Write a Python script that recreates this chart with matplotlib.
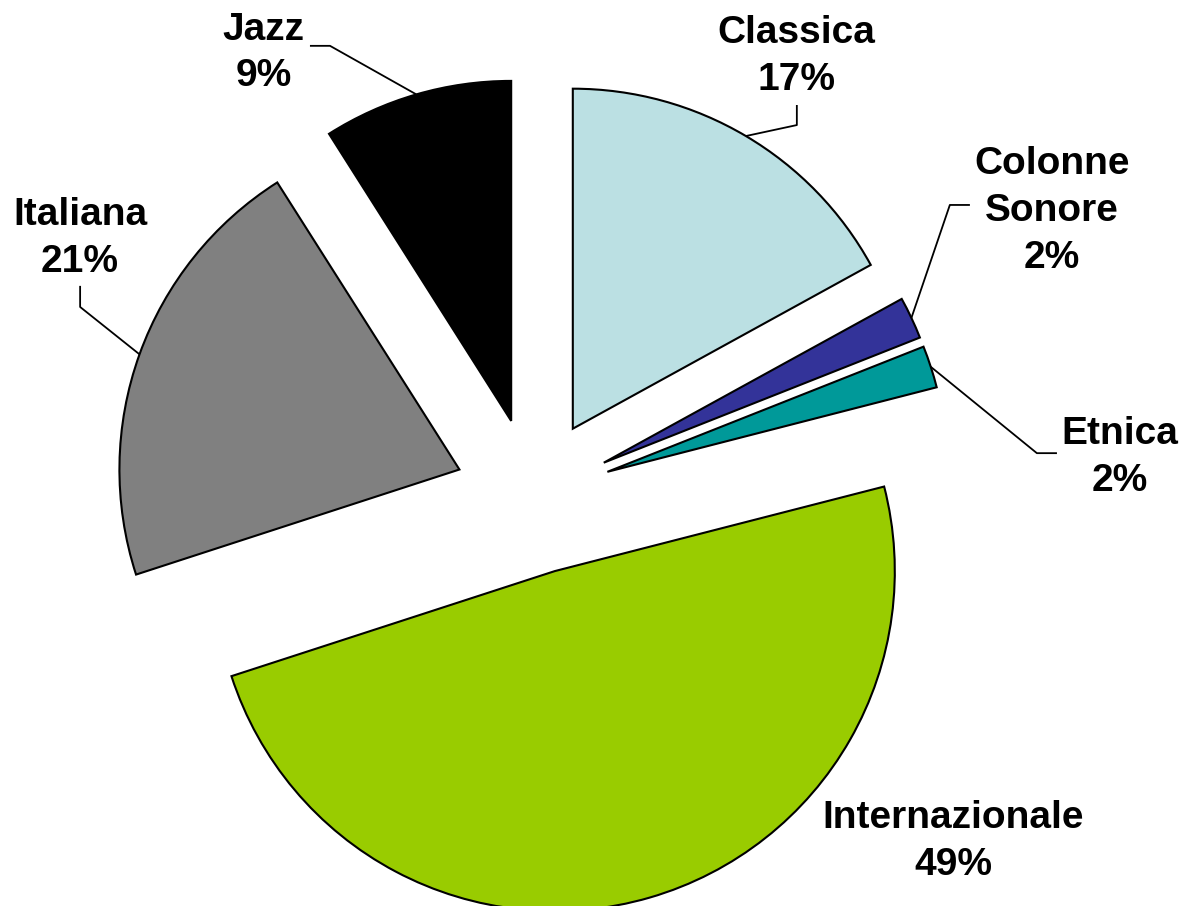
import numpy as np
import matplotlib
matplotlib.use("Agg")
import matplotlib.pyplot as plt

# data
labels = ["Classica", "Colonne\nSonore", "Etnica", "Internazionale", "Italiana", "Jazz"]
values = [17, 2, 2, 49, 21, 9]
colors = ["#BBE0E3", "#333399", "#009999", "#99CC00", "#808080", "#000000"]

# label placement (data units, pie radius = 1)
label_pos = [(0.774, 1.292), (1.526, 0.838), (1.726, 0.113), (1.235, -1.016), (-1.332, 0.758), (-0.793, 1.303)]
# leader elbows: (elbow, end); None = no leader
leaders = [((0.776, 1.091), (0.776, 1.150)),
           ((1.226, 0.856), (1.285, 0.856)),
           ((1.482, 0.126), (1.541, 0.126)),
           None,
           ((-1.332, 0.556), (-1.332, 0.618)),
           ((-0.597, 1.324), (-0.656, 1.324))]
explode = 0.23

W, H = 1182, 906
px = 340.0  # pixels per unit radius
cx, cy = 533, 496

fig = plt.figure(figsize=(W / 100, H / 100), dpi=100)
ax = fig.add_axes([0, 0, 1, 1])

wedges, _ = ax.pie(values, explode=[explode] * len(values), colors=colors, startangle=90,
                   counterclock=False, radius=1,
                   wedgeprops=dict(edgecolor="black", linewidth=1.5))

ax.set_xlim(-cx / px, (W - cx) / px)
ax.set_ylim(-(H - cy) / px, cy / px)
ax.set_aspect("equal")
ax.axis("off")

total = sum(values)
for i, w in enumerate(wedges):
    mid = np.deg2rad((w.theta1 + w.theta2) / 2)
    pct = round(values[i] / total * 100)
    ax.text(label_pos[i][0], label_pos[i][1], f"{labels[i]}\n{pct}%", ha="center", va="center",
            fontsize=28, fontweight="bold", family=["Liberation Sans", "DejaVu Sans"],
            linespacing=1.38)
    if leaders[i] is not None:
        arc = ((1 + explode) * np.cos(mid), (1 + explode) * np.sin(mid))
        (ex, ey), (tx, ty) = leaders[i]
        ax.plot([arc[0], ex, tx], [arc[1], ey, ty], color="black", linewidth=1.3,
                solid_capstyle="butt", zorder=0)

fig.savefig("out.png", dpi=100)
